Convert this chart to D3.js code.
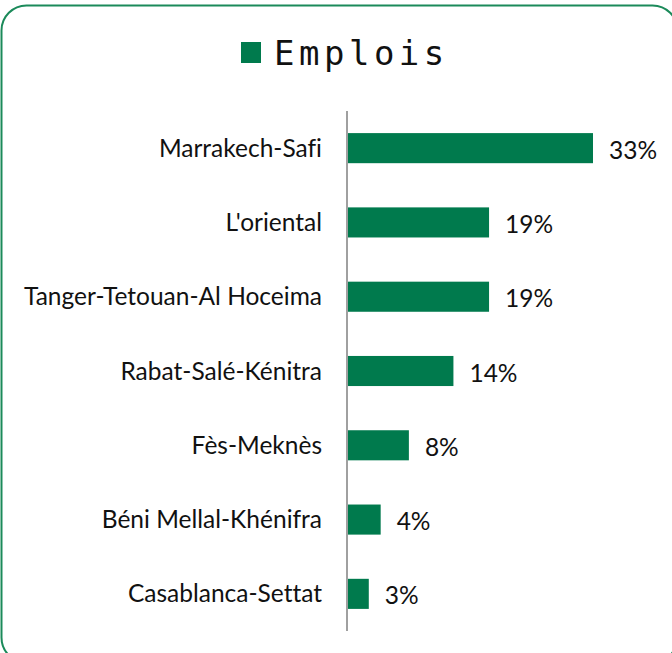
<!DOCTYPE html>
<html><head><meta charset="utf-8">
<script src="https://cdn.jsdelivr.net/npm/d3@7"></script>
<style>
html,body{margin:0;padding:0;background:#fff;}
svg{display:block;}
text{font-variant-ligatures:none;}
</style></head>
<body>
<svg id="chart" width="672" height="653"></svg>
<script>
const categories = ["Marrakech-Safi","L'oriental","Tanger-Tetouan-Al Hoceima","Rabat-Salé-Kénitra","Fès-Meknès","Béni Mellal-Khénifra","Casablanca-Settat"];
const values = [33.0, 19.0, 19.0, 14.2, 8.2, 4.4, 2.8];
const labels = ["33%","19%","19%","14%","8%","4%","3%"];
const title = "Emplois";

const svg = d3.select("#chart");
const green = "#007A4D";

svg.append("rect").attr("x",1.5).attr("y",5.5).attr("width",676).attr("height",657)
  .attr("rx",25).attr("ry",25).attr("fill","none").attr("stroke","#1B8A5A").attr("stroke-width",2);

// title
svg.append("rect").attr("x",241).attr("y",42).attr("width",20).attr("height",21).attr("fill",green);
svg.append("text").attr("x",274).attr("y",65).text(title)
  .attr("font-family","DejaVu Sans Mono").attr("font-size",34).attr("letter-spacing",4.5).attr("fill","#111");

const x = d3.scaleLinear().domain([0,33]).range([348,593]);
const y = d3.scaleBand().domain(categories).range([111,631]).paddingInner(0.595).paddingOuter(0.2975);

const font = "Lato, 'Open Sans', sans-serif";

svg.append("g").selectAll("rect").data(categories).join("rect")
  .attr("x",x(0)).attr("y",d=>y(d)).attr("height",y.bandwidth())
  .attr("width",(d,i)=>x(values[i])-x(0)).attr("fill",green);

svg.append("line").attr("x1",347).attr("x2",347).attr("y1",111).attr("y2",631)
  .attr("stroke","#A0A0A0").attr("stroke-width",2);

svg.append("g").selectAll("text").data(categories).join("text")
  .attr("x",322).attr("y",d=>y(d)+y.bandwidth()/2).attr("dy","0.35em")
  .attr("text-anchor","end").attr("font-family",font).attr("font-size",24.5).attr("fill","#111")
  .text(d=>d);

svg.append("g").selectAll("text").data(categories).join("text")
  .attr("x",(d,i)=>x(values[i])+16).attr("y",d=>y(d)+y.bandwidth()/2+2).attr("dy","0.35em")
  .attr("font-family",font).attr("font-size",24.5).attr("fill","#111")
  .text((d,i)=>labels[i]);
</script>
</body></html>
